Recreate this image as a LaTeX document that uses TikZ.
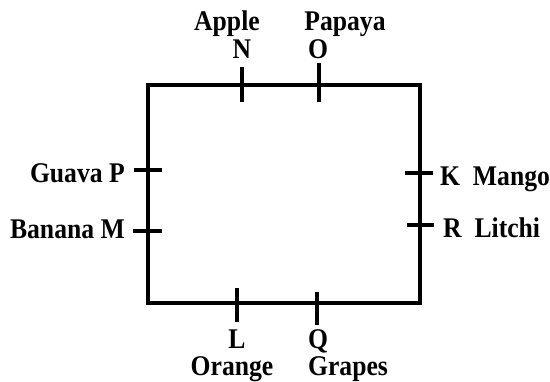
\documentclass[tikz,border=0pt]{standalone}
\usepackage{fontspec}
\setmainfont{Liberation Serif}[FakeStretch=0.9]
\begin{document}
\begin{tikzpicture}[x=1pt,y=-1pt,
  frame/.style={line width=3.6pt,line join=miter},
  tick/.style={line width=3.6pt},
  lbl/.style={inner sep=0pt,font=\fontsize{28.5}{32}\selectfont\bfseries}]
\useasboundingbox (0,0) rectangle (550,381);
% frame corners
\coordinate (tl) at (148,85);
\coordinate (tr) at (420,85);
\coordinate (br) at (420,303);
\coordinate (bl) at (148,303);
\draw[frame] (tl) -- (tr) -- (br) -- (bl) -- cycle;
% ticks
\coordinate (n1) at (242,67);  \coordinate (n2) at (242,102);
\coordinate (o1) at (319,63);  \coordinate (o2) at (319,102);
\coordinate (p1) at (134,170); \coordinate (p2) at (162,170);
\coordinate (m1) at (133,231); \coordinate (m2) at (162,231);
\coordinate (k1) at (405,173); \coordinate (k2) at (433,173);
\coordinate (r1) at (407,225); \coordinate (r2) at (434,225);
\coordinate (l1) at (237,288); \coordinate (l2) at (237,322);
\coordinate (q1) at (317,292); \coordinate (q2) at (317,325);
\foreach \a/\b in {n1/n2,o1/o2,p1/p2,m1/m2,k1/k2,r1/r2,l1/l2,q1/q2}
  \draw[tick] (\a) -- (\b);
% labels
\node[lbl,anchor=base] (apple) at (227,30) {Apple};
\node[lbl,anchor=base,text height=19pt] (nl) at (242,58) {N};
\node[lbl,anchor=base] (papaya) at (345,30) {Papaya};
\node[lbl,anchor=base,text height=19pt] (ol) at (318,58) {O};
\node[lbl,anchor=base east] (guava) at (125,182) {Guava P};
\node[lbl,anchor=base east] (banana) at (125,238) {Banana M};
\node[lbl,anchor=base west] (mango) at (440,185) {K\ \ Mango};
\node[lbl,anchor=base west] (litchi) at (443,237) {R\ \ Litchi};
\node[lbl,anchor=base,text depth=0pt] (ll) at (237,348) {L};
\node[lbl,anchor=base,text height=17pt] (orange) at (232,375) {Orange};
\node[lbl,anchor=base,text depth=0pt] (ql) at (318,348) {Q};
\node[lbl,anchor=base,text height=17pt] (grapes) at (348,375) {Grapes};
\end{tikzpicture}
\end{document}
